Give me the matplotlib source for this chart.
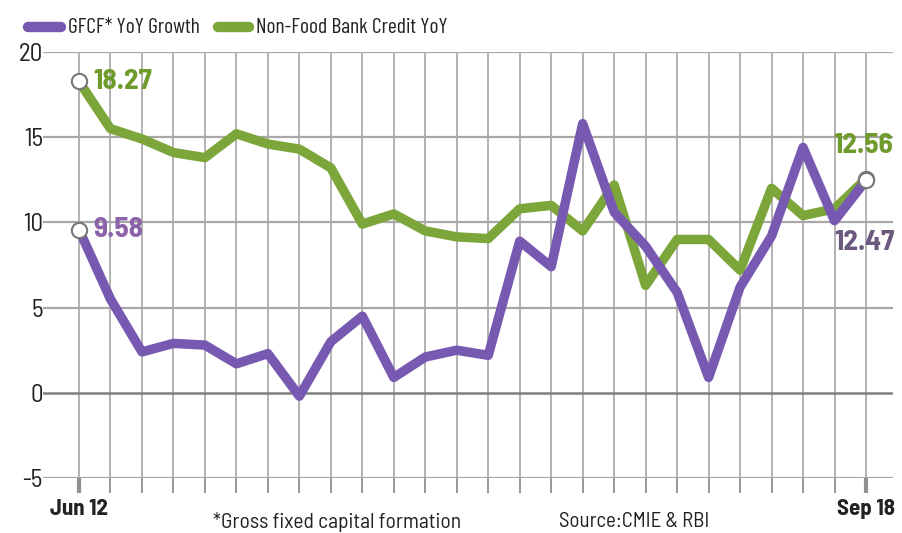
import numpy as np
import matplotlib
matplotlib.use('Agg')
import matplotlib.pyplot as plt

# quarterly data, Jun 2012 .. Sep 2018
quarters = ['Jun 12', 'Sep 12', 'Dec 12', 'Mar 13', 'Jun 13', 'Sep 13', 'Dec 13', 'Mar 14',
            'Jun 14', 'Sep 14', 'Dec 14', 'Mar 15', 'Jun 15', 'Sep 15', 'Dec 15', 'Mar 16',
            'Jun 16', 'Sep 16', 'Dec 16', 'Mar 17', 'Jun 17', 'Sep 17', 'Dec 17', 'Mar 18',
            'Jun 18', 'Sep 18']
gfcf = [9.58, 5.5, 2.4, 2.9, 2.8, 1.7, 2.3, -0.2, 3.0, 4.5, 0.9, 2.1, 2.5, 2.2,
        8.9, 7.4, 15.8, 10.6, 8.6, 5.9, 0.9, 6.2, 9.2, 14.4, 10.1, 12.47]
credit = [18.27, 15.5, 14.9, 14.1, 13.8, 15.2, 14.6, 14.3, 13.2, 9.9, 10.5, 9.5, 9.15, 9.05,
          10.8, 11.0, 9.5, 12.2, 6.3, 9.0, 9.0, 7.2, 12.0, 10.4, 10.8, 12.56]

PURPLE = '#7759b2'
GREEN = '#7ca53a'
TXT = '#222222'

plt.rcParams['font.family'] = ['Barlow Semi Condensed', 'DejaVu Sans']
plt.rcParams['axes.unicode_minus'] = False

fig = plt.figure(figsize=(9.03, 5.33), dpi=100)
ax = fig.add_axes([0.0476, 0.1032, 0.9414, 0.7992])
x = np.arange(len(quarters))

# grid
for v in x:
    ax.axvline(v, color='#acacac', lw=1.3, zorder=0)
for yv in [20, 15, 10, 5, -5]:
    ax.axhline(yv, color='#a8a8a8', lw=1.6, zorder=0)
ax.axhline(0, color='#808080', lw=1.8, zorder=0)

ax.plot(x, credit, color=GREEN, lw=6.8, zorder=2)
ax.plot(x, gfcf, color=PURPLE, lw=6.8, zorder=3)

# end markers
for s in (credit, gfcf):
    ax.plot([x[0], x[-1]], [s[0], s[-1]], 'o', ms=11, mfc='white', mec='#777777', mew=1.5, zorder=4)

lab = dict(fontsize=21, fontweight='bold', va='center')
ax.text(x[0] + 0.45, credit[0], '%.2f' % credit[0], color='#6f9a2c', ha='left', **lab)
ax.text(x[0] + 0.45, gfcf[0], '%.2f' % gfcf[0], color='#8c62ab', ha='left', **lab)
ax.text(x[-1] - 0.1, credit[-1] + 1.95, '%.2f' % credit[-1], color='#6f9a2c', ha='center', **lab)
ax.text(x[-1] - 0.05, gfcf[-1] - 3.65, '%.2f' % gfcf[-1], color='#6c5a7e', ha='center', **lab)

ax.set_xlim(-1.144, 25.86)
ax.set_ylim(-5, 20)
ax.set_yticks([20, 15, 10, 5, 0, -5])
ax.tick_params(axis='y', length=0, labelsize=18, pad=0, labelcolor=TXT)
ax.set_xticks(x)
ax.set_xticklabels([quarters[0]] + [''] * (len(x) - 2) + [quarters[-1]],
                   fontsize=16.5, fontweight='bold', color=TXT)
ax.tick_params(axis='x', length=11, width=1.3, color='#909090', pad=4)
for i in (0, len(x) - 1):
    t = ax.xaxis.get_major_ticks()[i]
    t.tick1line.set_color(TXT)
    t.tick1line.set_markeredgewidth(3)
for sp in ax.spines.values():
    sp.set_visible(False)

# legend
fig.add_artist(plt.Line2D([0.031, 0.067], [0.949, 0.949], color=PURPLE, lw=7.5, solid_capstyle='round'))
fig.text(0.075, 0.949, 'GFCF* YoY Growth', fontsize=15.5, va='center', ha='left', color=TXT,
         family=['Barlow Condensed', 'DejaVu Sans'])
fig.add_artist(plt.Line2D([0.241, 0.276], [0.949, 0.949], color=GREEN, lw=7.5, solid_capstyle='round'))
fig.text(0.283, 0.949, 'Non-Food Bank Credit YoY', fontsize=15.5, va='center', ha='left', color=TXT,
         family=['Barlow Condensed', 'DejaVu Sans'])

fig.text(0.373, 0.021, '*Gross fixed capital formation', fontsize=15.5, ha='center', va='center', color=TXT)
fig.text(0.702, 0.021, 'Source:CMIE & RBI', fontsize=15, ha='center', va='center', color=TXT)

fig.savefig('out.png', dpi=100)
